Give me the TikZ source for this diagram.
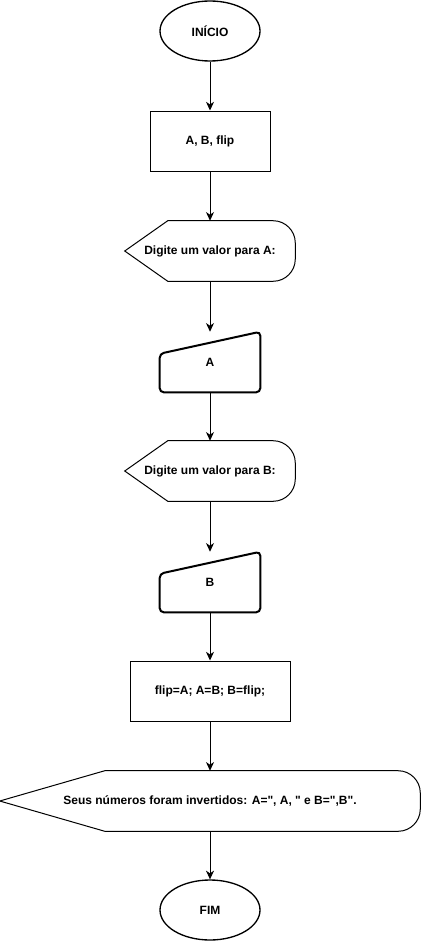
\documentclass[tikz,border=0pt]{standalone}
\usepackage{fontspec}
\setmainfont{Liberation Sans}
\usetikzlibrary{
  arrows.meta,
  positioning,
  shapes.geometric,
  calc,
}

\begin{document}
\begin{tikzpicture}[
    x=0.75pt, y=-0.75pt,
    every node/.style={font=\fontsize{9}{11}\selectfont\bfseries},
    term/.style={ellipse, draw, line width=1pt,
                 minimum width=75pt, minimum height=45pt, inner sep=0pt},
    proc/.style={rectangle, draw, line width=0.75pt,
                 minimum height=45pt, inner sep=0pt},
    disp/.style={rectangle, minimum height=45pt, inner sep=0pt},
    manin/.style={rectangle, minimum width=75pt, minimum height=45pt, inner sep=0pt},
    flow/.style={draw, line width=0.75pt,
                 -{Stealth[length=6.5pt, width=6pt, inset=2pt]}},
  ]
  \useasboundingbox (0,0) rectangle (421,942);

  \node[term] (ini) at (210,31) {INÍCIO};
  \node[proc, minimum width=90pt] (decl) at (210,141) {A, B, flip};
  \node[disp, minimum width=127.5pt] (dA) at (210,251) {Digite um valor para A:};
  \node[manin] (inA) at (210,362) {A};
  \node[disp, minimum width=127.5pt] (dB) at (210,471) {Digite um valor para B:};
  \node[manin] (inB) at (210,582) {B};
  \node[proc, minimum width=120pt] (swap) at (210,691) {flip=A; A=B; B=flip;};
  \node[disp, minimum width=315pt] (out) at (210,801)
    {Seus números foram invertidos: A=\textquotedbl, A, \textquotedbl{} e B=\textquotedbl,B\textquotedbl.};
  \node[term] (fim) at (210,910) {FIM};

  % display outlines
  \foreach \n/\d in {dA/43, dB/43, out/105}{
    \draw[line width=0.75pt] (\n.west) -- ($(\n.north west)+(\d,0)$)
      -- ($(\n.north east)+(-22,0)$)
      .. controls ($(\n.north east)+(-10,0)$) and ($(\n.north east)+(0,10)$)
      .. ($(\n.north east)+(0,22)$)
      -- ($(\n.south east)+(0,-22)$)
      .. controls ($(\n.south east)+(0,-10)$) and ($(\n.south east)+(-10,0)$)
      .. ($(\n.south east)+(-22,0)$)
      -- ($(\n.south west)+(\d,0)$) -- cycle;
  }

  % manual input outlines
  \foreach \n in {inA, inB}{
    \draw[line width=1.5pt, rounded corners=3pt] (\n.south) -- (\n.south west)
      -- ($(\n.north west)+(0,22)$) -- (\n.north east) -- (\n.south east) -- cycle;
  }

  \draw[flow] (ini) -- (decl);
  \draw[flow] (decl) -- (dA);
  \draw[flow] (dA) -- (inA);
  \draw[flow] (inA) -- (dB);
  \draw[flow] (dB) -- (inB);
  \draw[flow] (inB) -- (swap);
  \draw[flow] (swap) -- (out);
  \draw[flow] (out) -- (fim);
\end{tikzpicture}
\end{document}
